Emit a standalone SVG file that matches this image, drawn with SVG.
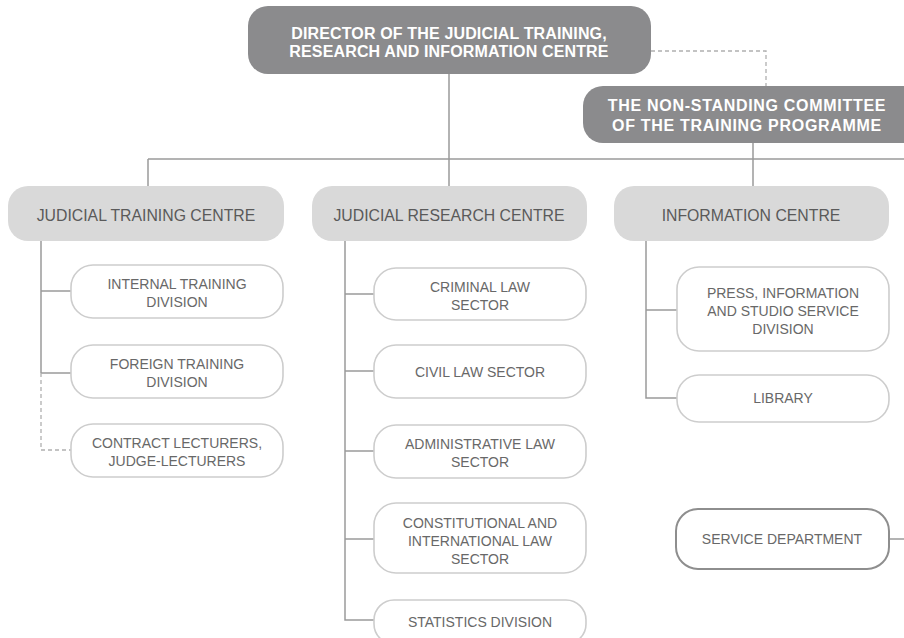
<svg xmlns="http://www.w3.org/2000/svg" width="904" height="638" viewBox="0 0 904 638">
  <style>
    .bg { fill: #ffffff; }
    .top { fill: #8b8b8d; }
    .top-t { font-family: "Liberation Sans", Arial, sans-serif; font-weight: bold; font-size: 16px; fill: #ffffff; text-anchor: middle; }
    .mid { fill: #d9d9d9; }
    .mid-t { font-family: "Liberation Sans", Arial, sans-serif; font-size: 15.8px; fill: #5a5a5a; text-anchor: middle; }
    .leaf { fill: #ffffff; stroke: #cdcdcd; stroke-width: 1.6; }
    .leaf-strong { fill: #ffffff; stroke: #8e8e8e; stroke-width: 2; }
    .leaf-t { font-family: "Liberation Sans", Arial, sans-serif; font-size: 14px; fill: #686868; text-anchor: middle; }
    .ln { fill: none; stroke: #9a9a9a; stroke-width: 1.5; }
    .dash { fill: none; stroke: #b0b0b0; stroke-width: 1.3; stroke-dasharray: 4 3; }
  </style>
  <rect class="bg" x="0" y="0" width="904" height="638"/>

  <g id="connectors">
    <!-- director to level-two bar -->
    <path class="ln" d="M449 74 V186"/>
    <path class="ln" d="M148 159 H904"/>
    <path class="ln" d="M148 159 V186"/>
    <path class="ln" d="M753 143 V186"/>
    <!-- director to committee (dashed) -->
    <path class="dash" d="M651 51 H766 V86"/>
    <!-- training centre branch -->
    <path class="ln" d="M41 241 V373"/>
    <path class="ln" d="M41 291 H71"/>
    <path class="ln" d="M41 373 H71"/>
    <path class="dash" d="M41 373 V450 H71"/>
    <!-- research centre branch -->
    <path class="ln" d="M345 241 V620 H374"/>
    <path class="ln" d="M345 294 H374"/>
    <path class="ln" d="M345 371 H374"/>
    <path class="ln" d="M345 451 H374"/>
    <path class="ln" d="M345 539 H374"/>
    <!-- information centre branch -->
    <path class="ln" d="M646 241 V398 H677"/>
    <path class="ln" d="M646 310 H677"/>
    <!-- service department -->
    <path class="ln" d="M889 539 H904"/>
  </g>

  <g id="director">
    <rect class="top" x="248" y="6" width="403" height="68" rx="20"/>
    <text class="top-t" x="449" y="39" letter-spacing="0.15">DIRECTOR OF THE JUDICIAL TRAINING,<tspan x="449" dy="18">RESEARCH AND INFORMATION CENTRE</tspan></text>
  </g>

  <g id="committee">
    <rect class="top" x="583" y="86" width="345" height="57" rx="20"/>
    <text class="top-t" x="747" y="111" letter-spacing="0.7">THE NON-STANDING COMMITTEE<tspan x="747" dy="20">OF THE TRAINING PROGRAMME</tspan></text>
  </g>

  <g id="training-centre">
    <rect class="mid" x="8" y="186" width="276" height="55" rx="20"/>
    <text class="mid-t" x="146" y="221">JUDICIAL TRAINING CENTRE</text>
  </g>
  <g id="research-centre">
    <rect class="mid" x="312" y="186" width="275" height="55" rx="20"/>
    <text class="mid-t" x="449" y="221">JUDICIAL RESEARCH CENTRE</text>
  </g>
  <g id="information-centre">
    <rect class="mid" x="614" y="186" width="275" height="55" rx="20"/>
    <text class="mid-t" x="751" y="221">INFORMATION CENTRE</text>
  </g>

  <g id="internal-training">
    <rect class="leaf" x="71" y="265" width="212" height="53" rx="22"/>
    <text class="leaf-t" x="177" y="289">INTERNAL TRAINING<tspan x="177" dy="18">DIVISION</tspan></text>
  </g>
  <g id="foreign-training">
    <rect class="leaf" x="71" y="345" width="212" height="53" rx="22"/>
    <text class="leaf-t" x="177" y="369">FOREIGN TRAINING<tspan x="177" dy="18">DIVISION</tspan></text>
  </g>
  <g id="contract-lecturers">
    <rect class="leaf" x="71" y="424" width="212" height="53" rx="22"/>
    <text class="leaf-t" x="177" y="448">CONTRACT LECTURERS,<tspan x="177" dy="18">JUDGE-LECTURERS</tspan></text>
  </g>

  <g id="criminal-law">
    <rect class="leaf" x="374" y="268" width="212" height="52" rx="22"/>
    <text class="leaf-t" x="480" y="292">CRIMINAL LAW<tspan x="480" dy="18">SECTOR</tspan></text>
  </g>
  <g id="civil-law">
    <rect class="leaf" x="374" y="345" width="212" height="53" rx="22"/>
    <text class="leaf-t" x="480" y="377">CIVIL LAW SECTOR</text>
  </g>
  <g id="administrative-law">
    <rect class="leaf" x="374" y="425" width="212" height="53" rx="22"/>
    <text class="leaf-t" x="480" y="449">ADMINISTRATIVE LAW<tspan x="480" dy="18">SECTOR</tspan></text>
  </g>
  <g id="constitutional-law">
    <rect class="leaf" x="374" y="503" width="212" height="70" rx="22"/>
    <text class="leaf-t" x="480" y="528">CONSTITUTIONAL AND<tspan x="480" dy="18">INTERNATIONAL LAW</tspan><tspan x="480" dy="18">SECTOR</tspan></text>
  </g>
  <g id="statistics">
    <rect class="leaf" x="374" y="600" width="212" height="44" rx="20"/>
    <text class="leaf-t" x="480" y="627">STATISTICS DIVISION</text>
  </g>

  <g id="press-division">
    <rect class="leaf" x="677" y="267" width="212" height="84" rx="22"/>
    <text class="leaf-t" x="783" y="298">PRESS, INFORMATION<tspan x="783" dy="18">AND STUDIO SERVICE</tspan><tspan x="783" dy="18">DIVISION</tspan></text>
  </g>
  <g id="library">
    <rect class="leaf" x="677" y="375" width="212" height="47" rx="22"/>
    <text class="leaf-t" x="783" y="403">LIBRARY</text>
  </g>

  <g id="service-department">
    <rect class="leaf-strong" x="676" y="509" width="213" height="60" rx="22"/>
    <text class="leaf-t" x="782" y="544">SERVICE DEPARTMENT</text>
  </g>
</svg>
